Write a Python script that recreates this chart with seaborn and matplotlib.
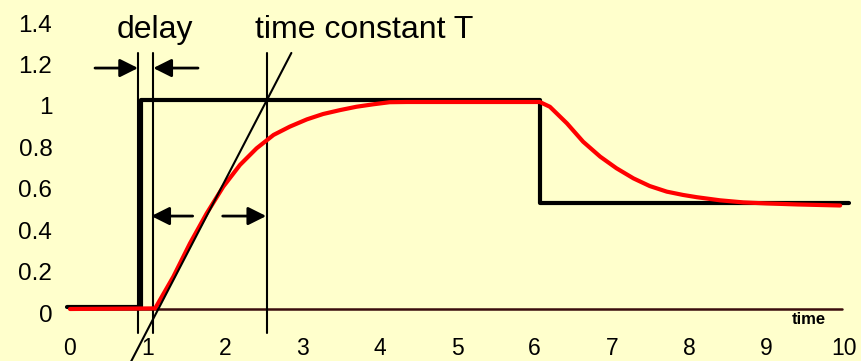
import matplotlib
matplotlib.use("Agg")
import matplotlib.pyplot as plt
import matplotlib.transforms as mtransforms
import numpy as np
import pandas as pd
import seaborn as sns

# --- data -----------------------------------------------------------------
# step input (black): time / level
step_t = [-0.04, 0.915, 0.915, 6.07, 6.07, 10.06]
step_y = [0.01, 0.01, 1.01, 1.01, 0.51, 0.51]

# process response (red): time / level
resp_t = [0.0, 1.10, 1.335, 1.55, 1.766, 1.98, 2.196, 2.41, 2.63, 2.84, 3.06,
          3.27, 3.49, 3.70, 3.92, 4.13, 4.35, 5.0, 6.07, 6.20, 6.42, 6.63,
          6.85, 7.06, 7.28, 7.49, 7.71, 7.92, 8.10, 8.40, 8.70, 9.00, 9.40, 9.95]
resp_y = [0.0, 0.003, 0.156, 0.317, 0.462, 0.591, 0.696, 0.776, 0.841, 0.881,
          0.916, 0.942, 0.961, 0.977, 0.989, 0.999, 1.0, 1.0, 1.0, 0.977,
          0.897, 0.808, 0.736, 0.68, 0.631, 0.594, 0.567, 0.551, 0.54,
          0.525, 0.515, 0.51, 0.505, 0.50]

# tangent at the inflection point
tangent_t = [0.78, 2.86]
tangent_y = [-0.26, 1.237]

# marker lines: delay start, delay end, end of time constant
marker_t = [0.879, 1.076, 2.54]
marker_y = [-0.116, 1.237]

# annotation arrows: (tail, tip, level)
delay_arrows = [(0.323, 0.879), (1.654, 1.076)]
delay_level = 1.164
tc_arrows = [(1.585, 1.05), (1.973, 2.535)]
tc_level = 0.449

x_ticks = list(range(0, 11))
y_ticks = [0, 0.2, 0.4, 0.6, 0.8, 1.0, 1.2, 1.4]
y_tick_labels = ["0", "0.2", "0.4", "0.6", "0.8", "1", "1.2", "1.4"]

# --- style ----------------------------------------------------------------
bg = "#FFFFCC"
sns.set_theme(style="white", rc={"axes.facecolor": bg, "figure.facecolor": bg,
                                 "text.color": "black",
                                 "xtick.color": "black",
                                 "ytick.color": "black"})
plt.rcParams["font.family"] = ["Liberation Sans", "DejaVu Sans"]

W, H = 861, 361
fig = plt.figure(figsize=(W / 100, H / 100), dpi=100)

# axes placement in pixels
ax_left_px, ax_bottom_px = 62, 337
ax = fig.add_axes([ax_left_px / W, (H - ax_bottom_px) / H,
                   (W - ax_left_px) / W, ax_bottom_px / H])
px_per_x, x0_px = 77.4, 70.0
px_per_y, y0_px = 207.0, 309.0
ax.set_xlim((ax_left_px - x0_px) / px_per_x, (W - x0_px) / px_per_x)
ax.set_ylim((y0_px - ax_bottom_px) / px_per_y, y0_px / px_per_y)

for s in ax.spines.values():
    s.set_visible(False)

# time axis line
ax.plot([0, 9.97], [0, 0], color="#3a0d0d", lw=1.8, zorder=2)

# marker lines
for t in marker_t:
    ax.plot([t, t], marker_y, color="black", lw=1.5, clip_on=False, zorder=3)

# step input
step_df = pd.DataFrame({"t": step_t, "y": step_y})
sns.lineplot(data=step_df, x="t", y="y", sort=False, estimator=None,
             color="black", lw=3.0, ax=ax, zorder=4)

# response
resp_df = pd.DataFrame({"t": resp_t, "y": resp_y})
sns.lineplot(data=resp_df, x="t", y="y", sort=False, estimator=None,
             color="#FF0000", lw=3.0, ax=ax, zorder=5)

# tangent
ax.plot(tangent_t, tangent_y, color="black", lw=1.5, clip_on=False, zorder=6)

arrow_kw = dict(arrowstyle="-|>,head_length=1.0,head_width=0.5",
                mutation_scale=11, lw=2.0, color="black",
                shrinkA=0, shrinkB=0)
for tail, tip in delay_arrows:
    ax.annotate("", xy=(tip, delay_level), xytext=(tail, delay_level),
                arrowprops=arrow_kw, zorder=7)
for tail, tip in tc_arrows:
    ax.annotate("", xy=(tip, tc_level), xytext=(tail, tc_level),
                arrowprops=arrow_kw, zorder=7)

ax.text(1.098, 1.309, "delay", ha="center", va="baseline", fontsize=23,
        color="black")
ax.text(3.80, 1.309, "time constant T", ha="center", va="baseline",
        fontsize=23, color="black")
ax.text(9.55, -0.072, "time", ha="center", va="baseline", fontsize=12,
        fontweight="bold", color="black")

ax.set_xticks(x_ticks)
ax.set_xticklabels([str(v) for v in x_ticks], fontsize=16.5)
ax.set_yticks(y_ticks)
ax.set_yticklabels(y_tick_labels, fontsize=17.5)
ax.tick_params(axis="x", length=0, pad=0, labelcolor="black")
ax.tick_params(axis="y", length=0, pad=7, labelcolor="black")
ax.set_xlabel("")
ax.set_ylabel("")
shift = mtransforms.ScaledTranslation(0, -4 / 100, fig.dpi_scale_trans)
for lab in ax.get_yticklabels():
    lab.set_transform(lab.get_transform() + shift)

fig.savefig("out.png", dpi=100, facecolor=bg)
